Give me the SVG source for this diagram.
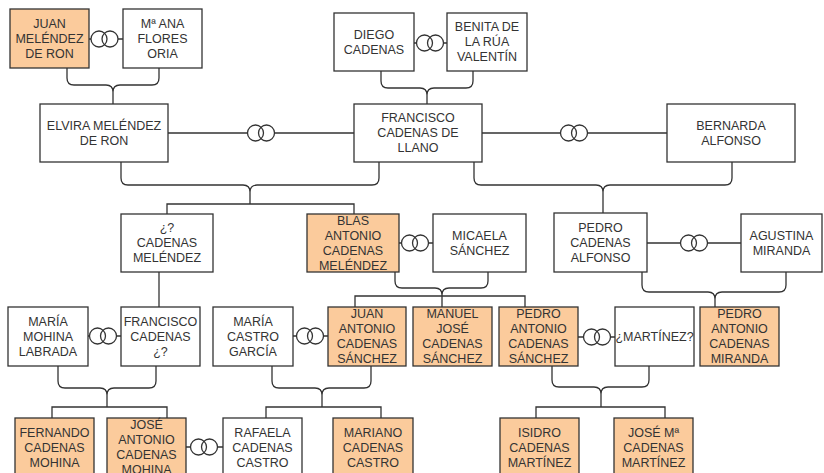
<svg xmlns="http://www.w3.org/2000/svg" xmlns:xlink="http://www.w3.org/1999/xlink" width="824" height="473" viewBox="0 0 824 473">
<style>
.b{fill:#ffffff;stroke:#333333;stroke-width:1.3}
.o{fill:#fbcb9c;stroke:#333333;stroke-width:1.3}
text{font-family:"Liberation Sans",Arial,sans-serif;font-size:12.5px;fill:#333333;text-anchor:middle}
.c{fill:none;stroke:#333333;stroke-width:1.3}
</style>
<defs>
<g id="rings" class="c"><circle cx="-5.5" cy="0" r="8"/><circle cx="5.5" cy="0" r="8"/></g>
</defs>
<rect width="824" height="473" fill="#ffffff"/>
<g id="connectors" class="c">
<path d="M67 68V78Q67 85 74 85H106Q113 85 113 92V104M159 68V78Q159 85 152 85H120Q113 85 113 92"/>
<path d="M381 71V81Q381 88 388 88H420Q427 88 427 95V104M473 71V81Q473 88 466 88H434Q427 88 427 95"/>
<path d="M121 162V178Q121 185 128 185H243Q250 185 250 192V204M379 162V178Q379 185 372 185H257Q250 185 250 192M167 214V204H354V214"/>
<path d="M474 162V178Q474 185 481 185H596Q603 185 603 192V213M732 162V178Q732 185 725 185H610Q603 185 603 192"/>
<path d="M395 272V281Q395 288 402 288H435Q442 288 442 295V307M488 272V281Q488 288 481 288H449Q442 288 442 295M355 307V296H525V307"/>
<path d="M642 272V285Q642 292 649 292H708Q715 292 715 299V307M786 272V285Q786 292 779 292H722Q715 292 715 299"/>
<path d="M58 366V381Q58 388 65 388H100Q107 388 107 395V407M156 366V381Q156 388 149 388H114Q107 388 107 395M52 418V407H167V418"/>
<path d="M272 366V381Q272 388 279 388H315Q322 388 322 395V407M371 366V381Q371 388 364 388H329Q322 388 322 395M266 418V407H381V418"/>
<path d="M552 366V380Q552 387 559 387H594Q601 387 601 394V407M649 366V380Q649 387 642 387H608Q601 387 601 394M536 418V407H665V418"/>
<path d="M159 272V307"/>
<path d="M89 39H91M118 39H123M414 43H416.5M443.5 43H447M168 133H247.5M274.5 133H354M482 133H560.5M587.5 133H667M399 243H401.5M428.5 243H433M647 243H680.5M707.5 243H741M88 336H89.5M116.5 336H121M293 336H296.5M323.5 336H328M578 337H583.5M610.5 337H615M186 447H190.5M217.5 447H223"/>
<use xlink:href="#rings" x="104.5" y="39"/>
<use xlink:href="#rings" x="430" y="43"/>
<use xlink:href="#rings" x="261" y="133"/>
<use xlink:href="#rings" x="574" y="133"/>
<use xlink:href="#rings" x="415" y="243"/>
<use xlink:href="#rings" x="694" y="243"/>
<use xlink:href="#rings" x="103" y="336"/>
<use xlink:href="#rings" x="310" y="336"/>
<use xlink:href="#rings" x="597" y="337"/>
<use xlink:href="#rings" x="204" y="447"/>
</g>
<g id="juan_melendez"><rect class="o" x="10" y="9" width="79" height="59"/><text x="49.5" y="27.8">JUAN</text><text x="49.5" y="42.8">MELÉNDEZ</text><text x="49.5" y="57.8">DE RON</text></g>
<g id="ana_flores"><rect class="b" x="123" y="9" width="79" height="59"/><text x="162.5" y="27.8">Mª ANA</text><text x="162.5" y="42.8">FLORES</text><text x="162.5" y="57.8">ORIA</text></g>
<g id="diego_cadenas"><rect class="b" x="334" y="13" width="80" height="58"/><text x="374" y="38.8">DIEGO</text><text x="374" y="53.8">CADENAS</text></g>
<g id="benita"><rect class="b" x="447" y="13" width="80" height="58"/><text x="487" y="31.3">BENITA DE</text><text x="487" y="46.3">LA RÚA</text><text x="487" y="61.3">VALENTÍN</text></g>
<g id="elvira"><rect class="b" x="40" y="104" width="128" height="58"/><text x="104" y="129.8">ELVIRA MELÉNDEZ</text><text x="104" y="144.8">DE RON</text></g>
<g id="francisco_llano"><rect class="b" x="354" y="104" width="128" height="58"/><text x="418" y="122.3">FRANCISCO</text><text x="418" y="137.3">CADENAS DE</text><text x="418" y="152.3">LLANO</text></g>
<g id="bernarda"><rect class="b" x="667" y="104" width="128" height="58"/><text x="731" y="129.8">BERNARDA</text><text x="731" y="144.8">ALFONSO</text></g>
<g id="x_cadenas_melendez"><rect class="b" x="121" y="214" width="92" height="58"/><text x="167" y="232.3">¿?</text><text x="167" y="247.3">CADENAS</text><text x="167" y="262.3">MELÉNDEZ</text></g>
<g id="blas"><rect class="o" x="307" y="214" width="92" height="58"/><text x="353" y="224.8">BLAS</text><text x="353" y="239.8">ANTONIO</text><text x="353" y="254.8">CADENAS</text><text x="353" y="269.8">MELÉNDEZ</text></g>
<g id="micaela"><rect class="b" x="433" y="214" width="93" height="58"/><text x="479.5" y="239.8">MICAELA</text><text x="479.5" y="254.8">SÁNCHEZ</text></g>
<g id="pedro_alfonso"><rect class="b" x="554" y="213" width="93" height="59"/><text x="600.5" y="231.8">PEDRO</text><text x="600.5" y="246.8">CADENAS</text><text x="600.5" y="261.8">ALFONSO</text></g>
<g id="agustina"><rect class="b" x="741" y="214" width="81" height="58"/><text x="781.5" y="239.8">AGUSTINA</text><text x="781.5" y="254.8">MIRANDA</text></g>
<g id="maria_mohina"><rect class="b" x="8" y="307" width="80" height="59"/><text x="48" y="325.8">MARÍA</text><text x="48" y="340.8">MOHINA</text><text x="48" y="355.8">LABRADA</text></g>
<g id="francisco_x"><rect class="b" x="121" y="307" width="79" height="59"/><text x="160.5" y="325.8">FRANCISCO</text><text x="160.5" y="340.8">CADENAS</text><text x="160.5" y="355.8">¿?</text></g>
<g id="maria_castro"><rect class="b" x="213" y="307" width="80" height="59"/><text x="253" y="325.8">MARÍA</text><text x="253" y="340.8">CASTRO</text><text x="253" y="355.8">GARCÍA</text></g>
<g id="juan_antonio"><rect class="o" x="328" y="307" width="78" height="59"/><text x="367" y="318.3">JUAN</text><text x="367" y="333.3">ANTONIO</text><text x="367" y="348.3">CADENAS</text><text x="367" y="363.3">SÁNCHEZ</text></g>
<g id="manuel_jose"><rect class="o" x="413" y="307" width="79" height="59"/><text x="452.5" y="318.3">MANUEL</text><text x="452.5" y="333.3">JOSÉ</text><text x="452.5" y="348.3">CADENAS</text><text x="452.5" y="363.3">SÁNCHEZ</text></g>
<g id="pedro_antonio_sanchez"><rect class="o" x="499" y="307" width="79" height="59"/><text x="538.5" y="318.3">PEDRO</text><text x="538.5" y="333.3">ANTONIO</text><text x="538.5" y="348.3">CADENAS</text><text x="538.5" y="363.3">SÁNCHEZ</text></g>
<g id="martinez"><rect class="b" x="615" y="307" width="79" height="59"/><text x="654.5" y="340.8">¿MARTÍNEZ?</text></g>
<g id="pedro_antonio_miranda"><rect class="o" x="700" y="307" width="79" height="59"/><text x="739.5" y="318.3">PEDRO</text><text x="739.5" y="333.3">ANTONIO</text><text x="739.5" y="348.3">CADENAS</text><text x="739.5" y="363.3">MIRANDA</text></g>
<g id="fernando"><rect class="o" x="15" y="418" width="79" height="59"/><text x="54.5" y="436.8">FERNANDO</text><text x="54.5" y="451.8">CADENAS</text><text x="54.5" y="466.8">MOHINA</text></g>
<g id="jose_antonio_mohina"><rect class="o" x="107" y="418" width="79" height="59"/><text x="146.5" y="429.3">JOSÉ</text><text x="146.5" y="444.3">ANTONIO</text><text x="146.5" y="459.3">CADENAS</text><text x="146.5" y="474.3">MOHINA</text></g>
<g id="rafaela"><rect class="b" x="223" y="418" width="79" height="59"/><text x="262.5" y="436.8">RAFAELA</text><text x="262.5" y="451.8">CADENAS</text><text x="262.5" y="466.8">CASTRO</text></g>
<g id="mariano"><rect class="o" x="333" y="418" width="80" height="59"/><text x="373" y="436.8">MARIANO</text><text x="373" y="451.8">CADENAS</text><text x="373" y="466.8">CASTRO</text></g>
<g id="isidro"><rect class="o" x="500" y="418" width="79" height="59"/><text x="539.5" y="436.8">ISIDRO</text><text x="539.5" y="451.8">CADENAS</text><text x="539.5" y="466.8">MARTÍNEZ</text></g>
<g id="jose_ma"><rect class="o" x="614" y="418" width="79" height="59"/><text x="653.5" y="436.8">JOSÉ Mª</text><text x="653.5" y="451.8">CADENAS</text><text x="653.5" y="466.8">MARTÍNEZ</text></g>
</svg>
